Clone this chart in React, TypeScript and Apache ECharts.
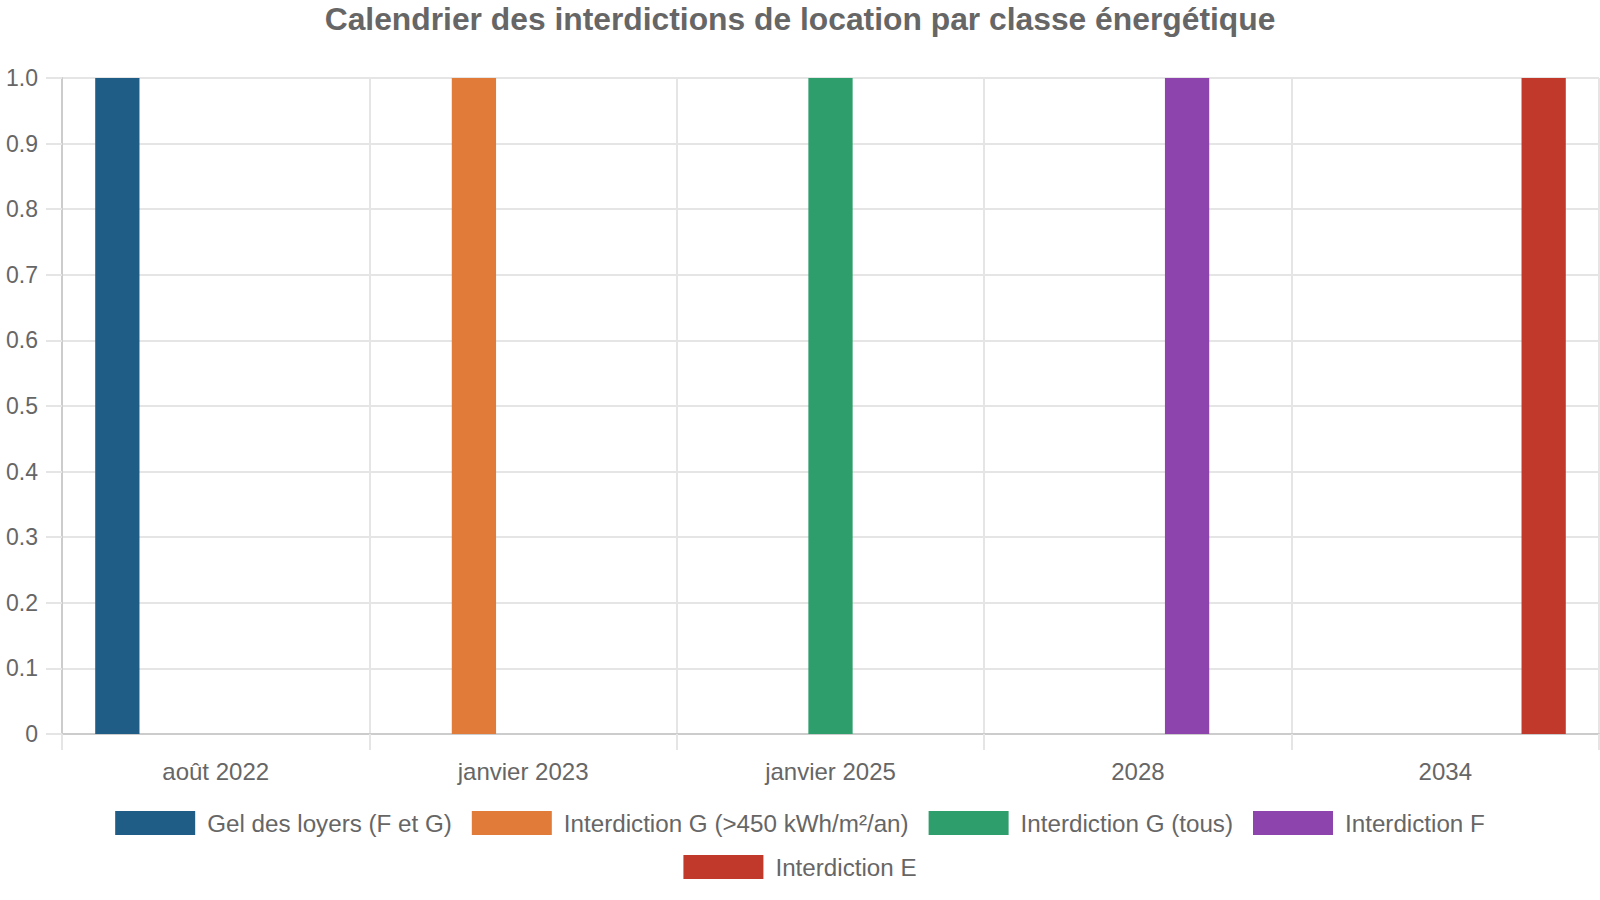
import React, { useEffect, useRef } from "react";
import * as echarts from "echarts";

const TITLE = "Calendrier des interdictions de location par classe énergétique";
const categories = ["août 2022", "janvier 2023", "janvier 2025", "2028", "2034"];
const seriesNames = [
  "Gel des loyers (F et G)",
  "Interdiction G (>450 kWh/m²/an)",
  "Interdiction G (tous)",
  "Interdiction F",
  "Interdiction E",
];
const gelLoyers = [1, 0, 0, 0, 0];
const interdictionG450 = [0, 1, 0, 0, 0];
const interdictionGTous = [0, 0, 1, 0, 0];
const interdictionF = [0, 0, 0, 1, 0];
const interdictionE = [0, 0, 0, 0, 1];
const seriesValues = [gelLoyers, interdictionG450, interdictionGTous, interdictionF, interdictionE];
const colors = ["#1f5d86", "#e07b39", "#2e9f6c", "#8e44ad", "#c0392b"];

const TEXT = "#666666";
const GRID = "#e5e5e5";
const AXIS = "#cccccc";

export default function App() {
  const ref = useRef<HTMLDivElement>(null);
  useEffect(() => {
    if (!ref.current) return;
    const chart = echarts.init(ref.current, undefined, { renderer: "svg" });
    const legendText = {
      fontSize: 24.2,
      color: TEXT,
      fontFamily: "Liberation Sans, Arial, sans-serif",
      padding: [0, 0, 0, 7],
    };
    chart.setOption({
      animation: false,
      textStyle: { fontFamily: "Liberation Sans, Arial, sans-serif" },
      title: {
        text: TITLE,
        left: "center",
        top: 0,
        padding: 0,
        textStyle: {
          fontSize: 31.8,
          fontWeight: "bold",
          color: TEXT,
          lineHeight: 38,
          fontFamily: "Liberation Sans, Arial, sans-serif",
        },
      },
      legend: [
        {
          data: seriesNames.slice(0, 4),
          left: "center",
          top: 811,
          padding: 0,
          itemWidth: 80,
          itemHeight: 24,
          itemGap: 20,
          icon: "rect",
          textStyle: legendText,
          selectedMode: false,
        },
        {
          data: seriesNames.slice(4),
          left: "center",
          top: 855,
          padding: 0,
          itemWidth: 80,
          itemHeight: 24,
          itemGap: 20,
          icon: "rect",
          textStyle: legendText,
          selectedMode: false,
        },
      ],
      grid: { left: 62, right: 1, top: 78, bottom: 166, containLabel: false },
      xAxis: {
        type: "category",
        data: categories,
        boundaryGap: true,
        axisLine: { show: true, lineStyle: { color: AXIS, width: 2 } },
        axisTick: { show: true, length: 16, alignWithLabel: false, lineStyle: { color: GRID, width: 2 } },
        splitLine: { show: true, lineStyle: { color: GRID, width: 2 } },
        axisLabel: { fontSize: 24, color: TEXT, margin: 25, interval: 0 },
      },
      yAxis: {
        type: "value",
        min: 0,
        max: 1,
        interval: 0.1,
        axisLine: { show: true, lineStyle: { color: AXIS, width: 2 } },
        axisTick: { show: true, length: 16, lineStyle: { color: GRID, width: 2 } },
        splitLine: { show: true, lineStyle: { color: GRID, width: 2 } },
        axisLabel: {
          fontSize: 23,
          color: TEXT,
          margin: 24,
          formatter: (v: number) => (v === 0 ? "0" : v.toFixed(1)),
        },
      },
      series: seriesNames.map((name, i) => ({
        name,
        type: "bar",
        data: seriesValues[i],
        barWidth: "14.4%",
        barGap: "11.1%",
        itemStyle: { color: colors[i] },
        emphasis: { disabled: true },
      })),
    });
    return () => chart.dispose();
  }, []);
  return (
    <div
      ref={ref}
      style={{ position: "fixed", left: 0, top: 0, width: 1600, height: 900, background: "#fff" }}
    />
  );
}
